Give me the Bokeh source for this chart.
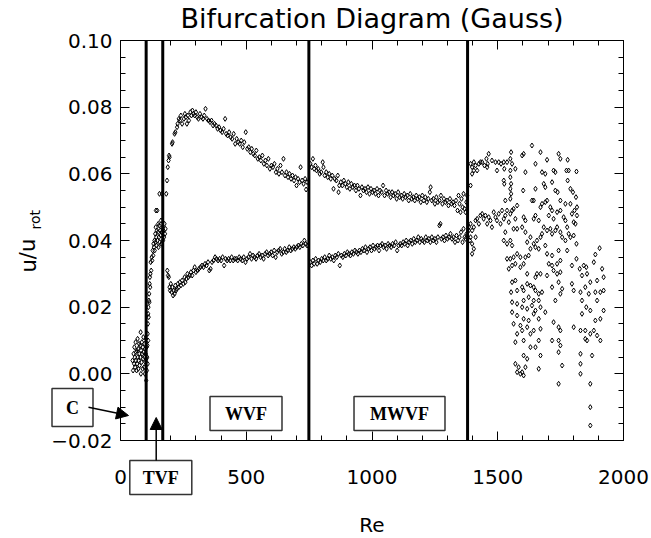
from bokeh.plotting import figure
from bokeh.models import (Range1d, FixedTicker, LinearAxis, Label, Arrow, NormalHead,
                          ColumnDataSource, PrintfTickFormatter)
from bokeh.embed import file_html
from bokeh.resources import INLINE

# ---------------- data (Re, u/u_rot) ----------------
couette = [(48, 0.004), (50, 0.001), (52, 0.006), (54, 0.003), (55, 0.008), (57, 0.005),
           (58, 0.002), (60, 0.0095), (61, 0.004), (62, 0.0065), (64, 0.001), (65, 0.007),
           (66, 0.003), (68, 0.0105), (69, 0.005), (70, 0.0075), (71, 0.0015), (72, 0.004),
           (74, 0.009), (75, 0.006), (76, 0.0025), (78, 0.0085), (79, 0.005), (80, 0.0125),
           (81, 0.0), (82, 0.007), (84, 0.0035), (85, 0.0095), (86, 0.006), (88, 0.0015),
           (89, 0.008), (90, 0.0045), (91, 0.011), (92, 0.0065), (94, 0.002), (95, 0.009),
           (96, 0.005), (97, 0.0), (98, 0.0075), (99, 0.0035), (100, 0.006), (101, 0.0105),
           (102, -0.002), (103, 0.0045), (104, 0.008)]

tvf = [(105, 0.001), (106, 0.005), (107, 0.0085), (108, 0.012), (108, 0.003), (109, 0.015),
       (110, 0.018), (110, 0.010), (111, 0.020), (112, 0.017), (113, 0.022), (114, 0.024),
       (115, 0.0215), (116, 0.027), (117, 0.029), (118, 0.026), (119, 0.030), (120, 0.0335),
       (122, 0.031), (124, 0.035), (126, 0.034), (128, 0.037), (130, 0.0355), (131, 0.039),
       (133, 0.038), (135, 0.040), (136, 0.037), (138, 0.042), (139, 0.0395), (140, 0.044),
       (141, 0.049), (142, 0.041), (144, 0.0385), (145, 0.043), (146, 0.049), (147, 0.040),
       (149, 0.0425), (150, 0.045), (151, 0.038), (153, 0.041), (154, 0.0445), (155, 0.054),
       (156, 0.0395), (158, 0.043), (160, 0.0415), (161, 0.046), (162, 0.039), (164, 0.0425),
       (165, 0.054), (167, 0.044), (169, 0.040), (171, 0.043), (173, 0.041), (175, 0.045),
       (177, 0.042), (179, 0.0435)]

wvf_upper = [(182, 0.054), (185, 0.058), (188, 0.062), (191, 0.064), (193, 0.0655), (195, 0.065),
             (205, 0.069), (207, 0.0695), (215, 0.072), (218, 0.0725), (225, 0.074), (227, 0.075),
             (232, 0.0765), (236, 0.076), (240, 0.0775), (245, 0.075), (252, 0.0765), (256, 0.078),
             (260, 0.077), (264, 0.075), (268, 0.0775), (272, 0.076), (278, 0.0785), (282, 0.0775),
             (286, 0.079), (290, 0.078), (295, 0.0775), (300, 0.0785), (305, 0.077), (310, 0.0765),
             (316, 0.078), (322, 0.077), (328, 0.0765), (333, 0.0775), (338, 0.0795), (344, 0.0765),
             (350, 0.076), (356, 0.0755), (362, 0.076), (368, 0.0745), (374, 0.075), (380, 0.0745),
             (386, 0.0735), (392, 0.074), (398, 0.073), (404, 0.0725), (410, 0.0735), (416, 0.0765),
             (420, 0.072), (426, 0.0715), (432, 0.0725), (438, 0.071), (444, 0.0705), (450, 0.072),
             (456, 0.069), (462, 0.0705), (468, 0.0695), (474, 0.069), (480, 0.070), (486, 0.068),
             (492, 0.0695), (498, 0.0725), (504, 0.0675), (510, 0.068), (516, 0.0665), (522, 0.0675),
             (528, 0.066), (534, 0.0655), (540, 0.067), (546, 0.0645), (552, 0.065), (558, 0.064),
             (564, 0.0655), (570, 0.063), (576, 0.064), (582, 0.0625), (588, 0.0645), (594, 0.0615),
             (600, 0.0625), (606, 0.062), (612, 0.063), (618, 0.0605), (624, 0.0615), (630, 0.060),
             (636, 0.0625), (642, 0.0605), (648, 0.0645), (654, 0.0595), (660, 0.0605), (666, 0.059),
             (672, 0.060), (678, 0.0585), (684, 0.0595), (690, 0.058), (696, 0.059), (700, 0.0565),
             (706, 0.0585), (712, 0.0575), (716, 0.062), (722, 0.058), (728, 0.057), (734, 0.0585),
             (738, 0.0553), (742, 0.0575)]

wvf_lower = [(186, 0.031), (189, 0.0295), (192, 0.029), (195, 0.026), (197, 0.025), (200, 0.027),
             (203, 0.0245), (206, 0.026), (209, 0.0235), (212, 0.025), (215, 0.024), (218, 0.0265),
             (221, 0.025), (224, 0.0255), (228, 0.027), (232, 0.026), (236, 0.0275), (240, 0.0265),
             (245, 0.028), (250, 0.027), (255, 0.029), (258, 0.0275), (262, 0.0285), (266, 0.030),
             (270, 0.029), (275, 0.0295), (280, 0.0305), (285, 0.0295), (290, 0.031), (295, 0.032),
             (300, 0.0305), (306, 0.031), (312, 0.0315), (318, 0.032), (324, 0.0325), (330, 0.032),
             (336, 0.033), (342, 0.0325), (348, 0.0335), (353, 0.031), (358, 0.0315), (364, 0.0335),
             (370, 0.034), (376, 0.035), (382, 0.0345), (388, 0.034), (394, 0.0345), (400, 0.034),
             (406, 0.035), (412, 0.0325), (418, 0.0345), (424, 0.034), (430, 0.0345), (436, 0.034),
             (442, 0.035), (448, 0.034), (454, 0.0345), (460, 0.0345), (466, 0.034), (472, 0.035),
             (478, 0.0345), (484, 0.034), (490, 0.035), (497, 0.0335), (503, 0.0345), (509, 0.035),
             (515, 0.036), (521, 0.0345), (527, 0.0355), (533, 0.035), (539, 0.0345), (545, 0.0355),
             (551, 0.036), (557, 0.035), (563, 0.0355), (569, 0.0345), (575, 0.036), (581, 0.0365),
             (587, 0.0355), (593, 0.036), (599, 0.0365), (605, 0.0355), (611, 0.037), (617, 0.035),
             (623, 0.0365), (629, 0.037), (635, 0.0375), (641, 0.036), (647, 0.0365), (653, 0.0375),
             (659, 0.0365), (665, 0.037), (671, 0.038), (677, 0.037), (683, 0.0375), (689, 0.038),
             (695, 0.0375), (701, 0.038), (707, 0.0385), (713, 0.038), (719, 0.039), (725, 0.0385),
             (731, 0.040), (737, 0.039), (742, 0.0385)]

mwvf_upper = [(755, 0.063), (760, 0.062), (765, 0.0645), (770, 0.0615), (775, 0.0625), (780, 0.061),
              (786, 0.0615), (792, 0.060), (798, 0.0605), (804, 0.0635), (807, 0.062), (812, 0.0595),
              (818, 0.0605), (824, 0.059), (830, 0.060), (836, 0.0585), (842, 0.0595), (847, 0.0555),
              (852, 0.0585), (858, 0.058), (864, 0.0595), (867, 0.0545), (870, 0.0565), (876, 0.0575),
              (882, 0.0565), (888, 0.058), (894, 0.057), (900, 0.056), (906, 0.0575), (912, 0.0555),
              (918, 0.057), (924, 0.056), (930, 0.0565), (936, 0.055), (942, 0.0565), (948, 0.0555),
              (954, 0.0535), (960, 0.056), (966, 0.055), (972, 0.0555), (978, 0.0545), (984, 0.056),
              (990, 0.054), (996, 0.0555), (1002, 0.0545), (1008, 0.055), (1014, 0.054), (1020, 0.0555),
              (1026, 0.0535), (1032, 0.055), (1038, 0.0545), (1044, 0.0565), (1050, 0.0535), (1056, 0.055),
              (1062, 0.054), (1068, 0.0545), (1074, 0.053), (1080, 0.0545), (1086, 0.0535), (1092, 0.054),
              (1098, 0.0525), (1104, 0.0545), (1110, 0.053), (1116, 0.0535), (1122, 0.0525), (1128, 0.054),
              (1134, 0.053), (1140, 0.0535), (1146, 0.052), (1152, 0.054), (1158, 0.0525), (1164, 0.053),
              (1170, 0.052), (1176, 0.0535), (1182, 0.0525), (1188, 0.053), (1194, 0.0515), (1200, 0.0535),
              (1206, 0.052), (1212, 0.053), (1218, 0.0515), (1224, 0.0525), (1230, 0.0545), (1233, 0.056),
              (1238, 0.052), (1244, 0.0525), (1250, 0.051), (1256, 0.053), (1262, 0.0515), (1268, 0.052),
              (1274, 0.0535), (1280, 0.051), (1286, 0.0525), (1292, 0.0515), (1298, 0.052), (1304, 0.0505),
              (1310, 0.0525), (1316, 0.051), (1322, 0.0515), (1328, 0.0505), (1334, 0.052), (1340, 0.049),
              (1344, 0.0535), (1348, 0.051), (1352, 0.0485), (1356, 0.0525), (1360, 0.050), (1364, 0.054),
              (1368, 0.0495), (1372, 0.0485), (1375, 0.0515), (1378, 0.0535)]

mwvf_lower = [(755, 0.0335), (760, 0.0325), (765, 0.034), (770, 0.033), (776, 0.0345), (782, 0.033),
              (788, 0.034), (794, 0.0335), (800, 0.0345), (806, 0.034), (812, 0.035), (818, 0.034),
              (824, 0.0345), (830, 0.0355), (836, 0.0345), (842, 0.035), (848, 0.034), (854, 0.0355),
              (860, 0.035), (866, 0.036), (872, 0.0325), (878, 0.0355), (884, 0.035), (890, 0.036),
              (896, 0.0355), (902, 0.0365), (908, 0.036), (914, 0.0355), (920, 0.0365), (926, 0.036),
              (932, 0.037), (938, 0.0365), (944, 0.036), (950, 0.037), (956, 0.0365), (962, 0.0375),
              (968, 0.037), (974, 0.038), (980, 0.0365), (986, 0.0375), (992, 0.038), (998, 0.037),
              (1004, 0.0385), (1010, 0.0375), (1016, 0.038), (1022, 0.0385), (1028, 0.037), (1034, 0.0385),
              (1040, 0.039), (1046, 0.038), (1052, 0.0385), (1058, 0.0375), (1064, 0.039), (1070, 0.0385),
              (1076, 0.038), (1082, 0.039), (1088, 0.0385), (1094, 0.0395), (1100, 0.037), (1106, 0.0385),
              (1112, 0.039), (1118, 0.0385), (1124, 0.0395), (1130, 0.039), (1136, 0.040), (1142, 0.0385),
              (1148, 0.0395), (1154, 0.040), (1160, 0.039), (1166, 0.0405), (1172, 0.0395), (1178, 0.040),
              (1184, 0.041), (1190, 0.0395), (1196, 0.0405), (1202, 0.040), (1208, 0.0395), (1214, 0.041),
              (1220, 0.040), (1226, 0.0405), (1232, 0.0395), (1238, 0.041), (1244, 0.040), (1250, 0.0405),
              (1256, 0.0395), (1262, 0.041), (1268, 0.0445), (1272, 0.045), (1276, 0.0405), (1282, 0.041),
              (1288, 0.040), (1294, 0.0415), (1300, 0.0405), (1306, 0.041), (1312, 0.042), (1318, 0.0405),
              (1324, 0.041), (1330, 0.0395), (1336, 0.0415), (1342, 0.040), (1348, 0.041), (1354, 0.0425),
              (1360, 0.0395), (1364, 0.0435), (1368, 0.041), (1372, 0.0405), (1376, 0.042)]

chaotic = [(1392, 0.063), (1398, 0.062), (1405, 0.0635), (1412, 0.0625), (1418, 0.061), (1425, 0.063),
           (1431, 0.0635), (1398, 0.060), (1392, 0.0565), (1405, 0.061), (1392, 0.045), (1398, 0.043),
           (1405, 0.044), (1412, 0.046), (1418, 0.0465), (1425, 0.045), (1431, 0.0475), (1392, 0.041),
           (1398, 0.039), (1405, 0.0375), (1398, 0.036), (1412, 0.041), (1385, 0.043), (1385, 0.044),
           (1389, 0.040),
           (1438, 0.0635), (1447, 0.0625), (1455, 0.0645), (1458, 0.062), (1464, 0.066), (1460, 0.063),
           (1477, 0.064), (1491, 0.0635), (1497, 0.061), (1504, 0.0635), (1513, 0.063), (1524, 0.0635),
           (1526, 0.0615), (1537, 0.0635), (1550, 0.0645), (1553, 0.0665), (1557, 0.063), (1570, 0.0615),
           (1597, 0.0655), (1603, 0.066), (1610, 0.0605), (1636, 0.0685), (1650, 0.063), (1670, 0.0665),
           (1676, 0.0605), (1689, 0.060), (1696, 0.0642), (1742, 0.066), (1749, 0.0645), (1722, 0.061),
           (1729, 0.0605), (1778, 0.0642), (1773, 0.061), (1782, 0.061), (1813, 0.0607),
           (1524, 0.058), (1526, 0.057), (1530, 0.052), (1550, 0.061), (1550, 0.059), (1553, 0.057),
           (1550, 0.0555), (1553, 0.054), (1550, 0.0525), (1601, 0.055), (1643, 0.052), (1650, 0.0555),
           (1683, 0.057), (1689, 0.056), (1716, 0.0575), (1729, 0.055), (1738, 0.0545), (1789, 0.0555),
           (1799, 0.0545), (1811, 0.053), (1778, 0.058), (1749, 0.052), (1769, 0.051),
           (1438, 0.048), (1444, 0.0465), (1451, 0.0475), (1458, 0.045), (1464, 0.047), (1471, 0.046),
           (1477, 0.044), (1484, 0.0485), (1491, 0.047), (1497, 0.046), (1504, 0.048), (1511, 0.045),
           (1517, 0.049), (1524, 0.0465), (1530, 0.0475), (1537, 0.049), (1544, 0.0455), (1550, 0.048),
           (1557, 0.049), (1563, 0.0495), (1570, 0.0465), (1563, 0.0435), (1530, 0.0425), (1524, 0.040),
           (1537, 0.039), (1550, 0.040), (1577, 0.0505), (1557, 0.0385),
           (1603, 0.047), (1610, 0.046), (1636, 0.052), (1643, 0.0465), (1650, 0.0475), (1663, 0.046),
           (1670, 0.050), (1676, 0.051), (1689, 0.0515), (1696, 0.052), (1709, 0.050), (1703, 0.0475),
           (1716, 0.049), (1722, 0.0465), (1736, 0.0485), (1749, 0.049), (1762, 0.047), (1769, 0.046),
           (1776, 0.044), (1795, 0.048), (1802, 0.0455), (1809, 0.045), (1815, 0.0475), (1789, 0.051),
           (1805, 0.049), (1815, 0.050),
           (1577, 0.0435), (1597, 0.044), (1610, 0.0425), (1617, 0.0395), (1630, 0.041), (1643, 0.039),
           (1656, 0.040), (1670, 0.041), (1676, 0.042), (1683, 0.044), (1696, 0.043), (1709, 0.0435),
           (1716, 0.042), (1729, 0.043), (1736, 0.044), (1749, 0.0425), (1756, 0.041), (1769, 0.040),
           (1782, 0.042), (1789, 0.041), (1802, 0.0415), (1813, 0.039), (1776, 0.037), (1742, 0.037),
           (1716, 0.0355), (1696, 0.036), (1689, 0.0385), (1663, 0.0375), (1650, 0.038), (1630, 0.0375),
           (1623, 0.0355), (1610, 0.035), (1590, 0.035), (1577, 0.036), (1563, 0.035), (1550, 0.0345),
           (1537, 0.0345), (1544, 0.0315), (1557, 0.0325), (1570, 0.033), (1590, 0.032), (1603, 0.033),
           (1813, 0.0345), (1795, 0.0325), (1749, 0.034), (1736, 0.033), (1716, 0.0325), (1703, 0.033),
           (1557, 0.0275), (1570, 0.028), (1597, 0.026), (1603, 0.025), (1617, 0.027), (1630, 0.0265),
           (1643, 0.026), (1650, 0.025), (1663, 0.024), (1676, 0.0245), (1553, 0.0245), (1577, 0.025),
           (1603, 0.022), (1623, 0.023), (1643, 0.022), (1663, 0.022), (1722, 0.031), (1736, 0.030),
           (1749, 0.0305), (1742, 0.0275), (1756, 0.0255), (1749, 0.024), (1729, 0.022), (1716, 0.026),
           (1696, 0.0295), (1670, 0.030), (1650, 0.029), (1656, 0.030), (1617, 0.030), (1795, 0.027),
           (1802, 0.025),
           (1557, 0.0215), (1577, 0.021), (1597, 0.020), (1617, 0.0195), (1636, 0.0205), (1650, 0.019),
           (1670, 0.020), (1689, 0.0185), (1557, 0.0185), (1577, 0.0175), (1603, 0.0165), (1623, 0.016),
           (1643, 0.018), (1663, 0.0165), (1563, 0.015), (1590, 0.0145), (1617, 0.014), (1643, 0.013),
           (1670, 0.0135), (1577, 0.012), (1597, 0.013), (1630, 0.012), (1663, 0.010), (1570, 0.0095),
           (1603, 0.010), (1630, 0.008), (1650, 0.008), (1722, 0.0155), (1742, 0.014), (1749, 0.013),
           (1742, 0.010), (1749, 0.0085), (1716, 0.010), (1742, 0.0065), (1802, 0.014),
           (1603, 0.0055), (1617, 0.0045), (1670, 0.0055), (1570, 0.003), (1583, 0.002), (1577, 0.0005),
           (1590, 0.0), (1597, 0.0005), (1610, 0.002), (1663, 0.0015), (1756, 0.0025), (1742, -0.003),
           (1603, -0.0005),
           (1905, 0.0377), (1888, 0.0358), (1882, 0.0335), (1842, 0.0325), (1852, 0.032), (1826, 0.0315),
           (1835, 0.0295), (1855, 0.030), (1915, 0.0315), (1921, 0.029), (1895, 0.028), (1868, 0.0275),
           (1848, 0.026), (1829, 0.0245), (1862, 0.024), (1888, 0.0245), (1908, 0.0245), (1921, 0.025),
           (1835, 0.022), (1852, 0.020), (1895, 0.022), (1868, 0.019), (1921, 0.019), (1908, 0.0165),
           (1888, 0.016), (1835, 0.018), (1848, 0.013), (1829, 0.013), (1882, 0.013), (1868, 0.012),
           (1895, 0.0115), (1855, 0.010), (1848, 0.0105), (1908, 0.010), (1829, 0.006), (1875, 0.0055),
           (1829, 0.003), (1829, 0.0), (1868, -0.003), (1868, -0.010), (1868, -0.0155)]

# regime boundaries (Re) and regime labels
transitions = [102, 168, 749, 1380]
regime_names = ["C", "TVF", "WVF", "MWVF"]

x_major = [0, 500, 1000, 1500, 2000]
x_minor = [100, 200, 300, 400, 600, 700, 800, 900, 1100, 1200, 1300, 1400,
           1600, 1700, 1800, 1900]
y_major = [-0.02, 0.0, 0.02, 0.04, 0.06, 0.08, 0.10]
y_minor = [-0.015, -0.01, -0.005, 0.005, 0.01, 0.015, 0.025, 0.03, 0.035, 0.045,
           0.05, 0.055, 0.065, 0.07, 0.075, 0.085, 0.09, 0.095]
X0, X1 = 0, 2000
Y0, Y1 = -0.02, 0.10

# ---------------- geometry: plot box in page pixels ----------------
W, H = 651, 538
BL, BT, BR, BB = 120, 40, 623, 440
kx = (X1 - X0) / (BR - BL)
ky = (Y1 - Y0) / (BB - BT)


def rx(px):
    return X0 + (px - BL) * kx


def ry(py):
    return Y0 + (BB - py) * ky


all_pts = couette + tvf + wvf_upper + wvf_lower + mwvf_upper + mwvf_lower + chaotic
src = ColumnDataSource(data=dict(re=[q[0] for q in all_pts], u=[q[1] for q in all_pts]))

FONT = "DejaVu Sans"

p = figure(width=W, height=H, output_backend="svg", toolbar_location=None,
           x_range=Range1d(rx(0), rx(W)), y_range=Range1d(ry(H), ry(0)),
           min_border=0)
p.background_fill_color = "white"
p.border_fill_color = "white"
p.outline_line_color = None
p.grid.visible = False


def style_axis(ax, major_len=9, minor_len=5):
    ax.axis_line_color = "black"
    ax.axis_line_width = 1
    ax.major_tick_line_color = "black"
    ax.minor_tick_line_color = "black"
    ax.major_tick_in = major_len
    ax.major_tick_out = 0
    ax.minor_tick_in = minor_len
    ax.minor_tick_out = 0
    ax.major_label_text_font = FONT
    ax.major_label_text_font_size = "20px"
    ax.major_label_text_color = "black"


# bottom axis (labelled)
xa = p.xaxis[0]
xa.ticker = FixedTicker(ticks=x_major, minor_ticks=x_minor)
xa.fixed_location = Y0
xa.bounds = (X0, X1)
style_axis(xa)
xa.major_label_standoff = 29
xa.axis_label = "Re"
xa.axis_label_text_font = FONT
xa.axis_label_text_font_size = "20px"
xa.axis_label_text_font_style = "normal"
xa.axis_label_text_color = "black"
xa.axis_label_standoff = 26

# left axis (labelled)
ya = p.yaxis[0]
ya.ticker = FixedTicker(ticks=y_major, minor_ticks=y_minor)
ya.formatter = PrintfTickFormatter(format="%.2f")
ya.major_label_overrides = {-0.02: "\u22120.02"}
ya.fixed_location = X0
ya.bounds = (Y0, Y1)
style_axis(ya)
ya.major_label_standoff = 8

# top and right axes: tick marks only (drawn as tick-only axes, no labels)
for side, ticks_long, ticks_short, loc, bnds in [
        ("above", x_major, x_minor, Y1, (X0, X1)),
        ("right", y_major, y_minor, X1, (Y0, Y1))]:
    for tks, ln in [(ticks_long, 9), (ticks_short, 5)]:
        ax = LinearAxis(ticker=FixedTicker(ticks=[], minor_ticks=tks))
        style_axis(ax, major_len=0, minor_len=ln)
        ax.fixed_location = loc
        ax.bounds = bnds
        p.add_layout(ax, side)

# data
p.scatter("re", "u", source=src, marker="diamond", size=5, line_color="black",
          line_width=1, fill_color=None)

# regime boundaries
p.segment(x0=transitions, y0=[Y0] * len(transitions), x1=transitions,
          y1=[Y1] * len(transitions), line_color="black", line_width=3)

# title and y label
p.add_layout(Label(x=rx(371.5), y=ry(18), text="Bifurcation Diagram (Gauss)", text_align="center",
                   text_baseline="middle", text_font=FONT, text_font_size="27px",
                   text_color="black"))
p.add_layout(Label(x=rx(28), y=ry(272), text="u/u", angle=1.5708, text_align="left",
                   text_baseline="middle", text_font=FONT, text_font_size="21px",
                   text_color="black"))
p.add_layout(Label(x=rx(35), y=ry(229), text="rot", angle=1.5708, text_align="left",
                   text_baseline="middle", text_font=FONT, text_font_size="14px",
                   text_color="black"))

# regime boxes (padding: horizontal, vertical)
box_pos = [(72, 407, (14, 9)), (160.3, 477, (13, 7)), (245.5, 413, (15, 7)),
           (399, 413, (16, 7))]
for name, (bx, by, pad) in zip(regime_names, box_pos):
    p.add_layout(Label(x=rx(bx), y=ry(by), text=name, text_align="center",
                       text_baseline="middle", text_font="Liberation Serif",
                       text_font_style="bold", text_font_size="18px", text_color="black",
                       background_fill_color="white", border_line_color="#333333",
                       border_line_width=1.5, padding=pad))

p.add_layout(Arrow(end=NormalHead(size=12, fill_color="black", line_color="black"),
                   x_start=rx(88), y_start=ry(406.7), x_end=rx(128), y_end=ry(415),
                   line_color="black", line_width=1.5))
p.add_layout(Arrow(end=NormalHead(size=12, fill_color="black", line_color="black"),
                   x_start=rx(155.7), y_start=ry(460), x_end=rx(155.7), y_end=ry(417),
                   line_color="black", line_width=1.5))

open("out.html", "w").write(file_html(p, INLINE))
